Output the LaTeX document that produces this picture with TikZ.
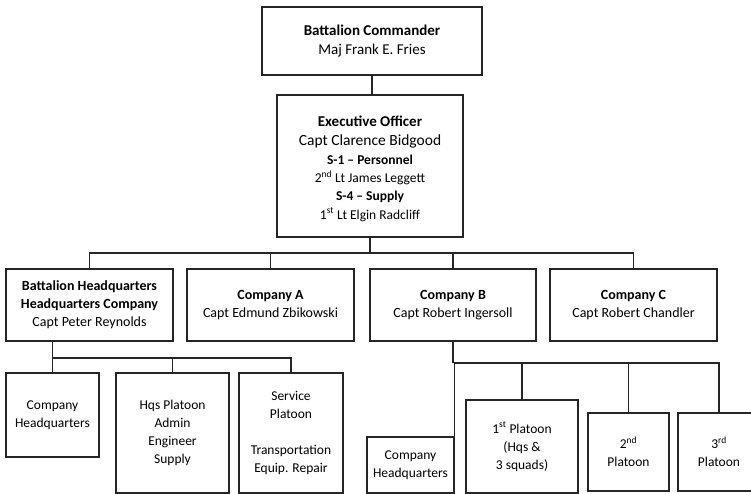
\documentclass[tikz,border=0pt]{standalone}
\usepackage{fontspec}
\setmainfont{Carlito}
\begin{document}
\begin{tikzpicture}[x=1pt,y=-1pt,
  box/.style={draw=black!85, line width=1.2pt, fill=white, inner sep=0pt, align=center, anchor=center},
  conn/.style={draw=black!85, line width=1.2pt},
  big/.style={font=\fontsize{15}{18.5}\selectfont},
  mid/.style={font=\fontsize{14}{18}\selectfont},
  sml/.style={font=\fontsize{13.5}{18}\selectfont}]
\useasboundingbox (0,0) rectangle (751,494);
\begin{scope}
\clip (0,0) rectangle (751,494);
% top
\node[box, big, minimum width=220, minimum height=68] (co) at (372,41)
  {\textbf{Battalion Commander}\\Maj Frank E. Fries};
\node[box, minimum width=186, minimum height=142] (xo) at (370,166) {};
\node[align=center, inner sep=0pt, font=\fontsize{13.5}{18.3}\selectfont] (xotext) at (370,168.5)
  {{\fontsize{15}{18}\selectfont\textbf{Executive Officer}}\\[1.5pt]
   {\fontsize{15.5}{18}\selectfont Capt Clarence Bidgood}\\
   \textbf{S-1 – Personnel}\\
   2\textsuperscript{nd} Lt James Leggett\\
   \textbf{S-4 – Supply}\\
   1\textsuperscript{st} Lt Elgin Radcliff};
% row 2
\node[box, mid, minimum width=167, minimum height=72] (bhq) at (89.5,305)
  {\textbf{Battalion Headquarters}\\\textbf{Headquarters Company}\\Capt Peter Reynolds};
\node[box, mid, minimum width=167, minimum height=72] (coA) at (270.5,305)
  {\textbf{Company A}\\Capt Edmund Zbikowski};
\node[box, mid, minimum width=166, minimum height=72] (coB) at (453,305)
  {\textbf{Company B}\\Capt Robert Ingersoll};
\node[box, mid, minimum width=167, minimum height=72] (coC) at (633.5,305)
  {\textbf{Company C}\\Capt Robert Chandler};
% row 3 left
\node[box, sml, minimum width=93, minimum height=84] (chqa) at (52.5,415)
  {Company\\Headquarters};
\node[box, sml, minimum width=113, minimum height=120] (hqs) at (172.5,433)
  {Hqs Platoon\\Admin\\Engineer\\Supply};
\node[box, sml, minimum width=104, minimum height=120] (svc) at (291,433)
  {Service\\Platoon\\[18pt]Transportation\\Equip. Repair};
% row 3 right
\node[box, sml, minimum width=87, minimum height=56] (chqb) at (410.5,465)
  {Company\\Headquarters};
\node[box, sml, minimum width=112, minimum height=93] (p1) at (522,446.5)
  {1\textsuperscript{st} Platoon\\(Hqs \&\\3 squads)};
\node[box, sml, minimum width=81, minimum height=78] (p2) at (628.5,452)
  {2\textsuperscript{nd}\\Platoon};
\node[box, sml, minimum width=82, minimum height=78] (p3) at (719,452)
  {3\textsuperscript{rd}\\Platoon};
% connectors
\coordinate (busA) at (0,253);
\coordinate (busB) at (0,358);
\coordinate (busC) at (0,363);
\draw[conn] (co.south) -- (xo.north -| co.south);
\draw[conn] (xo.south) -- (xo.south |- busA);
\draw[conn] (bhq.north) -- (bhq.north |- busA) -- (busA -| coC.north) -- (coC.north);
\draw[conn] (coA.north) -- (coA.north |- busA);
\draw[conn] (coB.north) -- (coB.north |- busA);
\draw[conn] (bhq.south -| chqa.north) -- (chqa.north);
\draw[conn] (chqa.north |- busB) -- (busB -| svc.north) -- (svc.north);
\draw[conn] (hqs.north) -- (hqs.north |- busB);
\draw[conn] (coB.south) -- (coB.south |- busC);
\draw[conn] (chqb.north east) -- (chqb.north east |- busC) -- (busC -| p3.north) -- (p3.north);
\draw[conn] (p1.north) -- (p1.north |- busC);
\draw[conn] (p2.north) -- (p2.north |- busC);
\end{scope}
\end{tikzpicture}
\end{document}
